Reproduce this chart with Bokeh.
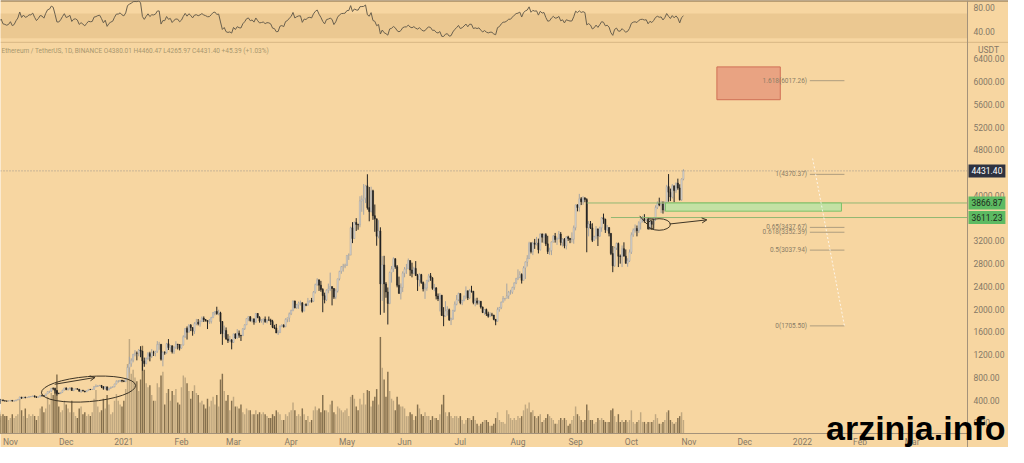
import numpy as np
import pandas as pd
from bokeh.plotting import figure
from bokeh.models import Range1d, Label, Arrow, OpenHead, ColumnDataSource
from bokeh.core.properties import value
from bokeh.embed import file_html
from bokeh.resources import INLINE

# ---------------- data (ETH / USDT daily) ----------------
START_DATE = "2020-10-01"      # first daily candle (earliest ones are warm-up for RSI)
AXIS_ORIGIN = "2020-11-01"     # day 0 of the x axis

close = [
    # Oct 2020
    359, 346, 346, 352, 353, 341, 341, 351, 365, 370, 375, 387, 381, 379, 377, 366, 368, 377, 379, 368,
    392, 413, 409, 412, 406, 393, 404, 388, 386, 383, 386,
    # Nov 2020
    396, 383, 387, 402, 415, 455, 435, 453, 444, 449, 462, 462, 475, 460, 447, 460, 481, 479, 471, 509,
    549, 558, 608, 603, 568, 518, 517, 538, 575, 614,
    # Dec 2020
    587, 598, 616, 569, 596, 601, 592, 555, 573, 560, 545, 568, 590, 586, 589, 636, 642, 654, 659, 638,
    609, 634, 583, 611, 626, 635, 683, 731, 731, 751, 737,
    # Jan 2021
    730, 774, 975, 1041, 1100, 1208, 1225, 1224, 1281, 1262, 1090, 1043, 1130, 1218, 1171, 1233, 1230, 1257, 1377, 1382,
    1120, 1236, 1233, 1392, 1324, 1357, 1252, 1331, 1382, 1377, 1314,
    # Feb 2021
    1369, 1514, 1661, 1594, 1718, 1677, 1614, 1746, 1768, 1744, 1783, 1843, 1814, 1800, 1779, 1781, 1849, 1938, 1960, 1919,
    1935, 1781, 1571, 1625, 1475, 1446, 1459, 1416,
    # Mar 2021
    1564, 1492, 1575, 1541, 1533, 1655, 1724, 1834, 1868, 1799, 1826, 1772, 1924, 1854, 1792, 1806, 1823, 1782, 1810, 1806,
    1783, 1681, 1669, 1582, 1587, 1701, 1716, 1691, 1819, 1846, 1919,
    # Apr 2021
    1977, 2143, 2024, 2077, 2107, 2112, 1964, 2080, 2070, 2134, 2151, 2138, 2299, 2432, 2514, 2422, 2346, 2237, 2163, 2331,
    2357, 2397, 2363, 2212, 2317, 2534, 2663, 2747, 2757, 2772,
    # May 2021
    2945, 2950, 3431, 3241, 3524, 3489, 3482, 3903, 3930, 3952, 4168, 3785, 3716, 4080, 3643, 3589, 3282, 3375, 2444, 2777,
    2444, 2302, 2101, 2644, 2707, 2886, 2747, 2420, 2280, 2381, 2633,
    # Jun 2021
    2704, 2708, 2855, 2689, 2630, 2716, 2590, 2517, 2607, 2470, 2355, 2372, 2508, 2586, 2551, 2366, 2372, 2230, 2180, 2244,
    1888, 1874, 1969, 1990, 1811, 1827, 1976, 2087, 2166, 2275,
    # Jul 2021
    2111, 2149, 2228, 2323, 2198, 2321, 2315, 2116, 2145, 2112, 2139, 2037, 1941, 1993, 1916, 1876, 1898, 1895, 1820, 1787,
    1993, 2026, 2122, 2187, 2191, 2233, 2298, 2298, 2380, 2461, 2536,
    # Aug 2021
    2558, 2609, 2506, 2725, 2827, 2890, 3157, 3012, 3163, 3141, 3164, 3045, 3322, 3265, 3309, 3148, 3013, 3030, 3181, 3285,
    3224, 3239, 3321, 3173, 3227, 3114, 3270, 3244, 3225, 3229, 3433,
    # Sep 2021
    3834, 3787, 3940, 3888, 3953, 3926, 3432, 3499, 3429, 3211, 3270, 3408, 3286, 3430, 3608, 3582, 3398, 3434, 3333, 2978,
    2762, 3077, 3155, 2930, 2925, 3063, 2931, 2806, 2849, 3001,
    # Oct 2021
    3307, 3390, 3418, 3380, 3517, 3585, 3591, 3561, 3577, 3414, 3545, 3493, 3605, 3788, 3864, 3830, 3847, 3744, 3877, 4155,
    4055, 3972, 4170, 4085, 4217, 4131, 3923, 4287, 4431.40,
]

high = [
    375, 362, 351, 355, 357, 355, 346, 352, 368, 373, 380, 395, 393, 385, 383, 380, 371, 379, 386, 382,
    396, 420, 416, 418, 419, 408, 411, 409, 394, 389, 395,
    396, 397, 395, 406, 418, 460, 454, 455, 458, 453, 469, 472, 477, 477, 463, 462, 492, 495, 484, 510,
    554, 561, 612, 622, 620, 571, 530, 542, 580, 617,
    623, 606, 624, 616, 599, 606, 605, 595, 575, 580, 563, 571, 595, 595, 598, 644, 676, 660, 668, 663,
    638, 644, 635, 614, 637, 642, 688, 747, 753, 754, 755,
    749, 787, 1011, 1162, 1135, 1210, 1279, 1255, 1299, 1348, 1264, 1148, 1150, 1245, 1250, 1297, 1268, 1266, 1438, 1425,
    1376, 1259, 1260, 1406, 1474, 1366, 1359, 1342, 1436, 1390, 1380,
    1377, 1540, 1667, 1695, 1735, 1738, 1625, 1770, 1828, 1826, 1805, 1871, 1872, 1827, 1803, 1827, 1864, 1950, 1965, 2042,
    1990, 1954, 1790, 1710, 1678, 1560, 1529, 1472,
    1567, 1574, 1650, 1624, 1546, 1665, 1734, 1838, 1874, 1876, 1836, 1840, 1932, 1930, 1876, 1822, 1835, 1870, 1816, 1870,
    1831, 1812, 1724, 1740, 1629, 1713, 1736, 1735, 1839, 1851, 1941,
    1990, 2154, 2150, 2091, 2133, 2150, 2120, 2085, 2102, 2197, 2155, 2197, 2317, 2448, 2545, 2524, 2497, 2368, 2290, 2348,
    2449, 2642, 2383, 2369, 2360, 2534, 2675, 2758, 2797, 2800,
    2950, 2980, 3450, 3530, 3540, 3600, 3502, 3985, 4000, 4200, 4186, 4372, 4148, 4153, 4100, 3840, 3560, 3564, 3439, 2933,
    2938, 2476, 2381, 2660, 2759, 2912, 2895, 2776, 2572, 2452, 2665,
    2740, 2795, 2891, 2857, 2817, 2745, 2845, 2620, 2630, 2620, 2485, 2450, 2513, 2620, 2635, 2560, 2443, 2389, 2275, 2283,
    2250, 2035, 2140, 2050, 2010, 1850, 1990, 2135, 2248, 2290,
    2275, 2165, 2238, 2400, 2325, 2355, 2410, 2320, 2190, 2200, 2160, 2140, 2045, 2000, 2010, 1955, 1945, 1935, 1900, 1825,
    2030, 2040, 2133, 2230, 2195, 2450, 2320, 2340, 2395, 2470, 2550,
    2700, 2667, 2630, 2755, 2840, 2950, 3185, 3180, 3185, 3235, 3270, 3240, 3330, 3330, 3330, 3335, 3290, 3080, 3190, 3300,
    3340, 3260, 3375, 3355, 3250, 3250, 3280, 3290, 3250, 3350, 3470,
    3838, 3842, 4027, 3970, 3985, 3970, 3950, 3550, 3550, 3510, 3290, 3460, 3420, 3450, 3620, 3680, 3590, 3480, 3440, 3333,
    3110, 3100, 3170, 3170, 2960, 3120, 3175, 3050, 2895, 3050,
    3350, 3420, 3490, 3470, 3545, 3615, 3640, 3670, 3600, 3620, 3615, 3550, 3610, 3825, 3895, 3960, 3905, 3895, 3895, 4185,
    4375, 4120, 4200, 4170, 4225, 4295, 4195, 4300, 4460.47,
]

low = [
    355, 340, 342, 342, 348, 338, 336, 340, 349, 364, 364, 373, 376, 373, 370, 362, 363, 366, 376, 366,
    367, 389, 400, 405, 398, 385, 388, 382, 376, 373, 380,
    381, 375, 375, 382, 396, 414, 425, 435, 432, 442, 446, 452, 459, 445, 443, 442, 451, 461, 463, 466,
    510, 528, 540, 574, 516, 480, 504, 506, 530, 569,
    574, 567, 590, 566, 558, 589, 585, 553, 529, 554, 539, 545, 566, 577, 579, 586, 626, 632, 647, 611,
    582, 585, 565, 570, 598, 620, 627, 678, 706, 720, 714,
    717, 715, 768, 888, 987, 1065, 1170, 1100, 1171, 1154, 917, 986, 1030, 1110, 1082, 1140, 1176, 1170, 1233, 1285,
    1095, 995, 1198, 1216, 1281, 1250, 1220, 1212, 1300, 1291, 1274,
    1303, 1362, 1496, 1465, 1590, 1614, 1533, 1564, 1716, 1715, 1692, 1776, 1774, 1781, 1650, 1740, 1746, 1847, 1890, 1902,
    1892, 1560, 1372, 1500, 1460, 1405, 1425, 1293,
    1405, 1474, 1484, 1497, 1440, 1529, 1635, 1725, 1789, 1781, 1765, 1726, 1758, 1840, 1762, 1761, 1725, 1760, 1749, 1800,
    1721, 1666, 1649, 1578, 1546, 1584, 1683, 1675, 1684, 1769, 1776,
    1895, 1963, 2014, 2004, 2005, 2063, 1940, 1970, 2052, 2060, 2113, 2114, 2125, 2275, 2410, 2320, 2306, 1946, 2102, 2142,
    2279, 2318, 2066, 2180, 2175, 2292, 2505, 2622, 2660, 2720,
    2758, 2865, 2952, 3161, 3240, 3375, 3396, 3440, 3712, 3659, 3865, 3750, 3545, 3702, 3570, 3360, 3115, 3245, 1900, 2146,
    1936, 2200, 1730, 2087, 2466, 2654, 2710, 2383, 2266, 2170, 2300,
    2560, 2620, 2706, 2584, 2559, 2614, 2584, 2320, 2400, 2444, 2311, 2180, 2322, 2475, 2498, 2340, 2315, 2171, 2142, 1960,
    1880, 1700, 1870, 1886, 1793, 1720, 1812, 1950, 2067, 2140,
    2085, 2070, 2140, 2180, 2160, 2180, 2290, 2085, 2050, 2080, 2080, 2010, 1930, 1900, 1880, 1850, 1860, 1875, 1805, 1717,
    1780, 1955, 2000, 2120, 2150, 2190, 2180, 2255, 2270, 2340, 2440,
    2510, 2545, 2450, 2510, 2530, 2750, 2880, 2980, 2950, 3060, 3120, 2980, 3030, 3170, 3160, 3110, 2970, 2955, 2950, 3170,
    3170, 3130, 3230, 3120, 3100, 3070, 3050, 3200, 3160, 3170, 3150,
    3385, 3720, 3715, 3830, 3835, 3880, 3000, 3280, 3410, 3180, 3200, 3230, 3110, 3270, 3360, 3500, 3340, 3370, 3280, 2950,
    2650, 2745, 3040, 2740, 2800, 2740, 2930, 2800, 2745, 2830,
    2970, 3270, 3345, 3280, 3340, 3400, 3525, 3520, 3535, 3400, 3400, 3395, 3390, 3550, 3760, 3810, 3690, 3680, 3715, 3850,
    3890, 3900, 3945, 3880, 4045, 4100, 3910, 3905, 4265.97,
]

# volume, in units of 30k ETH (approx.)
volume = [
    18, 20, 14, 12, 14, 20, 14, 16, 20, 16, 12, 18, 14, 12, 14, 16, 10, 10, 14, 16, 22, 24, 18, 12, 14, 18, 18, 20, 18, 18, 14,
    16, 20, 16, 18, 20, 36, 24, 18, 26, 16, 20, 18, 20, 18, 14, 18, 26, 28, 22, 26, 38, 30, 42, 40, 44, 61, 28, 22, 24, 34,
    30, 26, 22, 34, 22, 18, 16, 26, 28, 20, 22, 18, 20, 18, 22, 36, 45, 28, 22, 24, 36, 26, 40, 30, 20, 22, 34, 41, 34, 30, 28,
    34, 46, 72, 98, 62, 66, 58, 54, 44, 56, 91, 66, 52, 48, 50, 40, 34, 34, 52, 48, 60, 64, 30, 42, 46, 34, 44, 40, 46, 32, 30,
    48, 60, 58, 52, 44, 36, 44, 50, 42, 40, 32, 34, 30, 26, 36, 28, 34, 38, 30, 40, 28, 56, 62, 44, 34, 40, 24, 34,
    38, 28, 28, 26, 30, 22, 20, 26, 24, 24, 20, 20, 24, 20, 22, 20, 22, 20, 18, 16, 16, 20, 18, 24, 22, 20, 14, 14, 20, 18, 22,
    24, 32, 24, 18, 20, 18, 26, 20, 14, 18, 12, 14, 24, 28, 24, 26, 22, 40, 24, 24, 22, 30, 34, 22, 20, 28, 26, 24, 22, 24,
    26, 18, 38, 40, 36, 28, 24, 36, 30, 42, 30, 45, 44, 28, 34, 38, 46, 30, 100, 68, 56, 38, 64, 44, 36, 34, 24, 38, 30, 28, 28,
    26, 18, 18, 22, 20, 14, 18, 30, 26, 20, 18, 22, 18, 18, 14, 18, 16, 16, 14, 20, 30, 40, 22, 18, 22, 18, 16, 18, 18, 16,
    18, 14, 10, 14, 16, 16, 14, 18, 14, 10, 8, 10, 12, 14, 14, 12, 8, 8, 10, 16, 22, 14, 12, 12, 10, 24, 20, 16, 14, 16, 14,
    18, 16, 18, 24, 30, 26, 32, 22, 24, 18, 16, 18, 20, 12, 14, 16, 20, 18, 16, 14, 10, 10, 14, 16, 14, 16, 14, 8, 10, 14, 18,
    28, 20, 18, 14, 12, 14, 30, 24, 14, 14, 10, 12, 16, 14, 16, 14, 12, 12, 12, 24, 26, 18, 12, 20, 12, 14, 12, 14, 12, 14,
    24, 12, 10, 12, 14, 22, 12, 12, 10, 12, 12, 12, 14, 20, 16, 10, 10, 12, 14, 22, 24, 14, 12, 10, 12, 16, 18, 22, 14,
]

month_starts = ["2020-11-01", "2020-12-01", "2021-01-01", "2021-02-01", "2021-03-01", "2021-04-01",
                "2021-05-01", "2021-06-01", "2021-07-01", "2021-08-01", "2021-09-01", "2021-10-01",
                "2021-11-01", "2021-12-01", "2022-01-01", "2022-02-01", "2022-03-01"]
month_labels = ["Nov", "Dec", "2021", "Feb", "Mar", "Apr", "May", "Jun", "Jul", "Aug", "Sep", "Oct",
                "Nov", "Dec", "2022", "Feb", "Mar"]

price_ticks = [0, 400, 800, 1200, 1600, 2000, 2400, 2800, 3200, 4000, 4800, 5200, 5600, 6000, 6400]
rsi_ticks = [40, 80]

last_price = 4431.40
support_levels = [3866.87, 3611.23]
support_start = ["2021-09-07", "2021-09-20"]

fib_ratios = [1.618, 1, 0.65, 0.618, 0.5, 0]
fib_values = [6017.26, 4370.37, 3437.67, 3352.39, 3037.94, 1705.50]

header_text = "Ethereum / TetherUS, 1D, BINANCE  O4380.01  H4460.47  L4265.97  C4431.40  +45.39 (+1.03%)"
watermark = "arzinja.info"

# ---------------- derived ----------------
origin = pd.Timestamp(AXIS_ORIGIN)
dates = pd.date_range(START_DATE, periods=len(close), freq="D")
day = np.array((dates - origin).days, dtype=float)


def to_day(s):
    return float((pd.Timestamp(s) - origin).days)


c = np.array(close, float)
o = np.concatenate([[c[0]], c[:-1]])
h = np.maximum(np.array(high, float), np.maximum(o, c))
l = np.minimum(np.array(low, float), np.minimum(o, c))
up = c >= o

# RSI(14), Wilder smoothing
d = np.diff(c)
g = np.clip(d, 0, None)
ls = np.clip(-d, 0, None)
rsi = np.full(len(c), np.nan)
ag, al = g[:14].mean(), ls[:14].mean()
rsi[14] = 100 - 100 / (1 + ag / al)
for i in range(14, len(d)):
    ag = (ag * 13 + g[i]) / 14
    al = (al * 13 + ls[i]) / 14
    rsi[i + 1] = 100 - 100 / (1 + ag / al)
ok = ~np.isnan(rsi)

# ---------------- geometry: one frame holding both panes and the axes ----------------
W, H = 1008, 447
PLOT_W = 967            # px width of the chart area, the price scale sits right of it
RSI_H = 42              # px height of the RSI pane
MAIN_H = 391            # px height of the candle pane
X0, X1 = -5.34, 514.8   # visible days of the chart area
PPD = PLOT_W / (X1 - X0)
X_END = X0 + W / PPD

P_TOP, P_BOT = 6689.0, -187.0          # price at top / bottom of the candle pane
UPP = (P_TOP - P_BOT) / MAIN_H
Y_TOP = P_TOP + RSI_H * UPP
Y_BOT = P_BOT - (H - RSI_H - MAIN_H) * UPP

R_TOP, R_BOT = 90.8, 23.0              # RSI at top / bottom of the RSI pane
RUPP = (R_TOP - R_BOT) / RSI_H
V_UPP = 405.0 / MAIN_H                 # volume units per px
V_LO = -(H - RSI_H - MAIN_H) * V_UPP
V_HI = (RSI_H + MAIN_H) * V_UPP


def px_x(px):
    return X0 + px / PPD


def px_y(py):
    return Y_TOP - py * UPP


BG = "#F7D6A1"
AX_TXT = "#857866"
AX_LINE = "#A4927A"
FONT = "Roboto"

p = figure(width=W, height=H, x_range=Range1d(X0, X_END), y_range=Range1d(Y_BOT, Y_TOP),
           output_backend="svg", toolbar_location=None, x_axis_location=None, y_axis_location=None,
           min_border=0, background_fill_color=BG, border_fill_color=BG, outline_line_color=None)
p.grid.visible = False
p.extra_y_ranges = {"rsi": Range1d(R_TOP - H * RUPP, R_TOP), "vol": Range1d(V_LO, V_HI)}

# ---- RSI pane ----
p.quad(left=X0, right=X1, top=70, bottom=30, y_range_name="rsi",
       fill_color="#EBC891", line_color=None)
p.segment(x0=X0, x1=X_END, y0=R_BOT + 0.3, y1=R_BOT + 0.3, y_range_name="rsi",
          line_color="#D7B684", line_width=1)
p.segment(x0=X0, x1=X_END, y0=R_TOP - 0.5, y1=R_TOP - 0.5, y_range_name="rsi",
          line_color="#7E6746", line_width=1.5)
p.line(day[ok], rsi[ok], y_range_name="rsi", line_color="#6A604E", line_width=1)

# ---- volume + candles ----
src = ColumnDataSource(dict(
    x=day, h=h, l=l, vol=np.array(volume, float),
    top=np.maximum(o, c), bot=np.minimum(o, c),
    vcol=np.where(up, "#C0A880", "#85704E"),
    bcol=np.where(up, "#E2DED6", "#232323"),
    blin=np.where(up, "#A2A2A2", "#232323"),
    wcol=np.where(up, "#A4A4A4", "#232323"),
))
p.vbar(x="x", top="vol", bottom=0, width=0.78, source=src, y_range_name="vol",
       fill_color="vcol", line_color=None)
p.segment(x0="x", y0="l", x1="x", y1="h", source=src, line_color="wcol", line_width=1)
p.vbar(x="x", top="top", bottom="bot", width=0.64, source=src,
       fill_color="bcol", line_color="blin", line_width=0.5)

# last price line
p.segment(x0=X0, x1=X1, y0=last_price, y1=last_price, line_color="#8A8A8A",
          line_dash="1 2", line_width=1, line_alpha=0.85)

# support lines and zone
for lv, st in zip(support_levels, support_start):
    p.segment(x0=to_day(st), y0=lv, x1=X1, y1=lv, line_color="#86B46E", line_width=1, line_alpha=0.9)
p.quad(left=352.3, right=447.0, top=support_levels[0], bottom=3723,
       fill_color="#BCE2A4", fill_alpha=0.9, line_color="#7DC167", line_width=1)

# target box
p.quad(left=380.0, right=414.1, top=6260, bottom=5683,
       fill_color="#E9A382", line_color="#D06F55", line_width=1)

# fib levels
fib_text = [f"{r:g}({v:.2f})" for r, v in zip(fib_ratios, fib_values)]
n_fib = len(fib_values)
p.segment(x0=[430.0] * n_fib, y0=fib_values, x1=[448.6] * n_fib, y1=fib_values,
          line_color="#9B8E76", line_width=0.8)
p.text(x=[428.5] * n_fib, y=fib_values, text=fib_text, text_align="right",
       text_baseline="middle", text_font_size="6.5px", text_color="#8A7D66", text_font=value(FONT))
p.line([431.5, 448.6], [4650, fib_values[-1]], line_color="white", line_alpha=0.75,
       line_dash="2 2", line_width=1)

# hand drawings
INK = "#3E3526"
p.ellipse(x=[42.0], y=[594], width=[50.8], height=[441], angle=0.08,
          fill_color=None, line_color=INK, line_width=1)
p.add_layout(Arrow(end=OpenHead(size=5, line_color=INK, line_width=1),
                   x_start=23.8, y_start=679, x_end=45.5, y_end=798,
                   line_color=INK, line_width=1))
p.ellipse(x=[348.9], y=[3489], width=[12.2], height=[204], fill_color=None,
          line_color=INK, line_width=1)
p.quad(left=342.9, right=346.0, top=3587, bottom=3413, fill_color=None,
       line_color=INK, line_width=1)
p.line([338.5, 341.0, 343.0], [3640, 3540, 3480], line_color=INK, line_width=1)
p.add_layout(Arrow(end=OpenHead(size=5, line_color=INK, line_width=1),
                   x_start=354.5, y_start=3497, x_end=374.6, y_end=3570,
                   line_color=INK, line_width=1))

# ---- axes (drawn with the figure's own scales) ----
p.segment(x0=X1, x1=X1, y0=Y_BOT, y1=Y_TOP, line_color=AX_LINE, line_width=1)
p.segment(x0=X0, x1=X1, y0=P_BOT, y1=P_BOT, line_color=AX_LINE, line_width=1)
lab_x = X1 + 6 / PPD
p.text(x=[lab_x] * len(price_ticks), y=price_ticks, text=[f"{t:.2f}" for t in price_ticks],
       text_align="left", text_baseline="middle", text_font_size="8.5px",
       text_color=AX_TXT, text_font=value(FONT))
p.text(x=[lab_x] * len(rsi_ticks), y=rsi_ticks, text=[f"{t:.2f}" for t in rsi_ticks],
       y_range_name="rsi", text_align="left", text_baseline="middle", text_font_size="8.5px",
       text_color=AX_TXT, text_font=value(FONT))
month_days = [to_day(m) for m in month_starts]
p.text(x=month_days, y=[px_y(441)] * len(month_days), text=month_labels,
       text_align="center", text_baseline="middle", text_font_size="8.5px",
       text_color=AX_TXT, text_font=value(FONT))
p.text(x=[px_x(988)], y=[px_y(49)], text=["USDT"], text_align="center",
       text_baseline="middle", text_font_size="8.5px", text_color=AX_TXT, text_font=value(FONT))

# header line
p.text(x=[px_x(1)], y=[px_y(50)], text=[header_text], text_font_size="6.5px",
       text_color="#A8966F", text_baseline="middle", text_font=value(FONT))

# price tags on the scale
tags = [(last_price, "#2E3240", "#FFFFFF"),
        (support_levels[0], "#5DBA62", "#1D2A1D"),
        (support_levels[1], "#5DBA62", "#1D2A1D")]
for val, bg, fg in tags:
    p.add_layout(Label(x=X1, y=val, x_offset=1, text=f"{val:.2f}", text_align="left",
                       text_baseline="middle", text_font_size="8.5px", text_color=fg,
                       text_font=FONT, background_fill_color=bg, padding=3))

# watermark
p.add_layout(Label(x=px_x(1005), y=px_y(446), text=watermark, text_align="right",
                   text_baseline="bottom", text_font="Liberation Sans",
                   text_font_style="bold", text_font_size="34px", text_color="black"))

open("out.html", "w").write(file_html(p, INLINE))
